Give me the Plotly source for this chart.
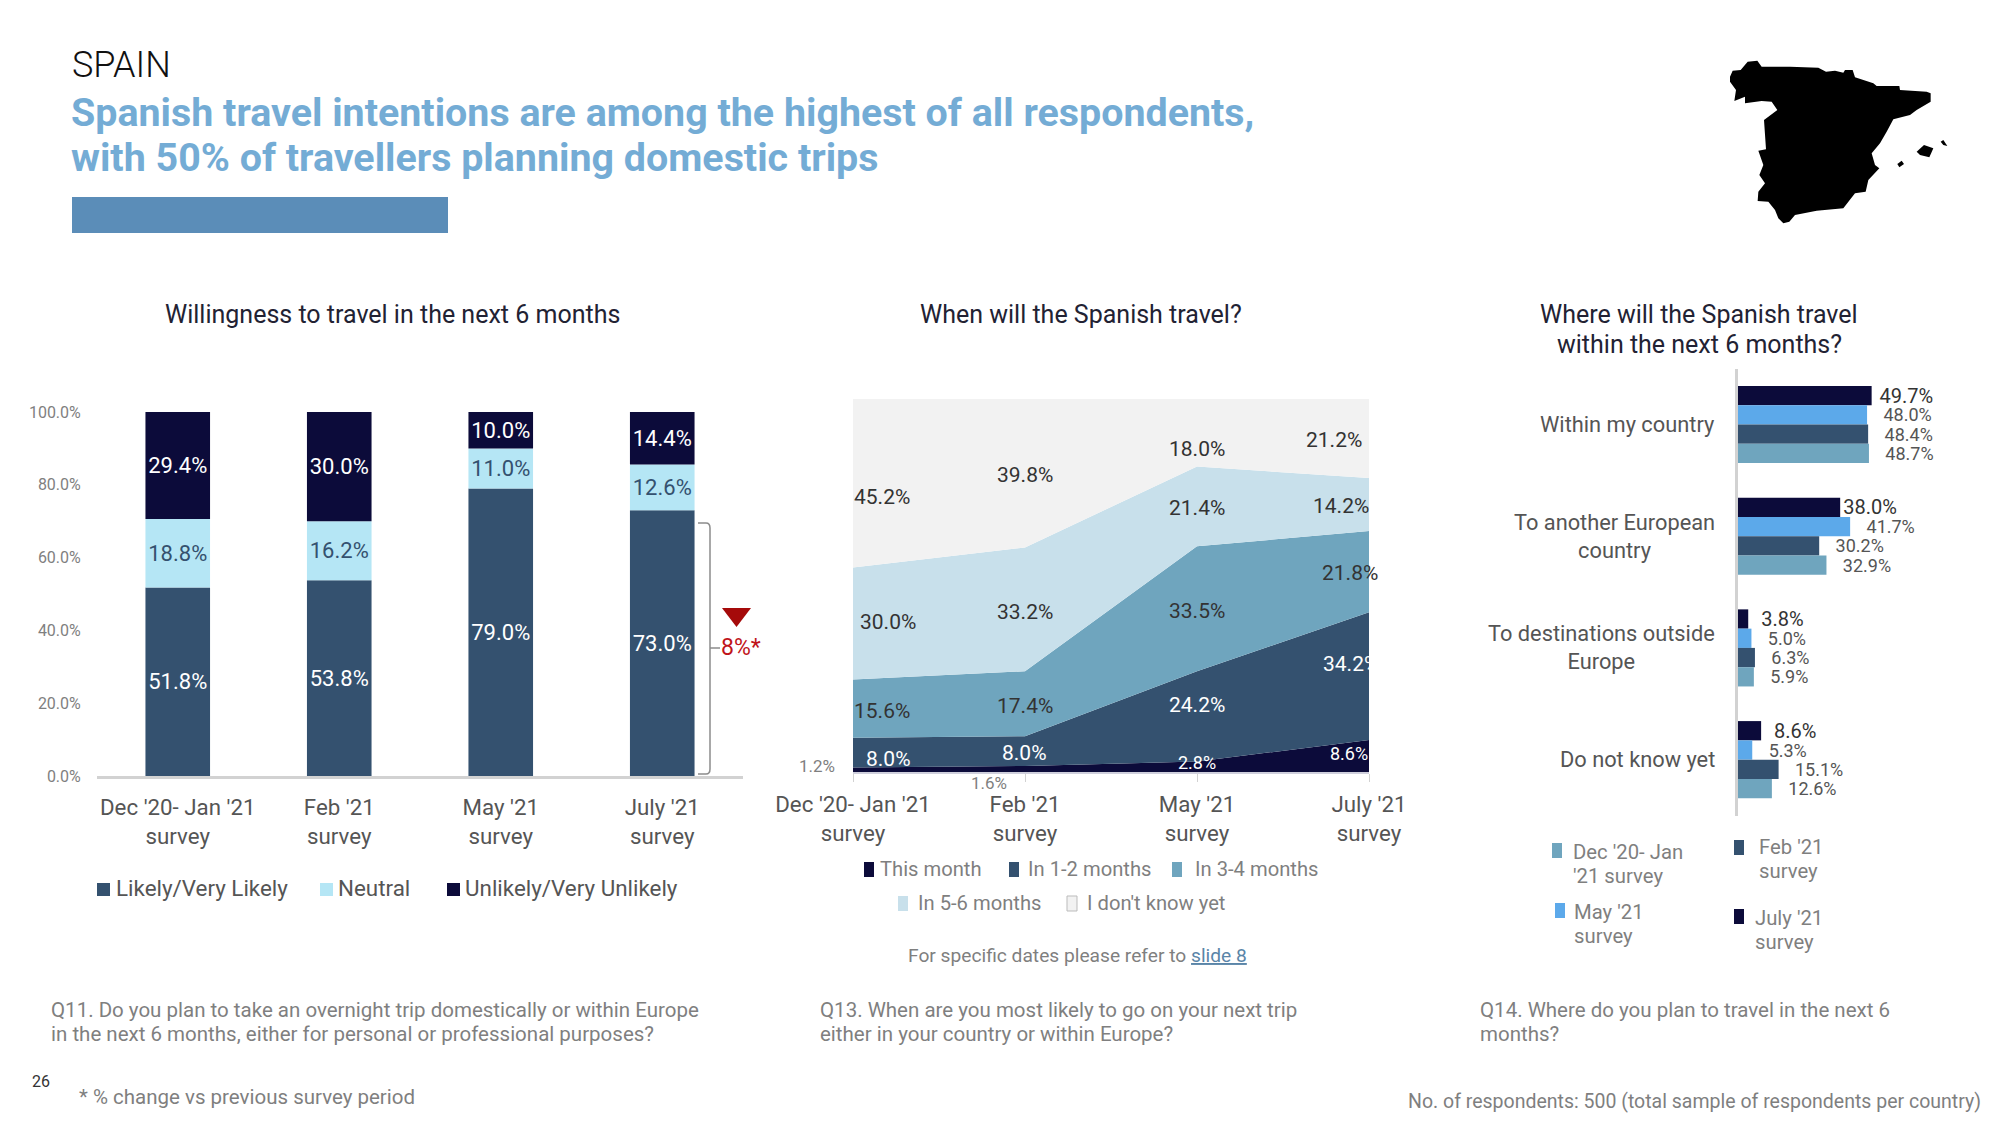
import plotly.graph_objects as go

W, H = 2000, 1126
FONT = "Roboto"

# ---------- data ----------
surveys = ["Dec '20- Jan '21<br>survey", "Feb '21<br>survey", "May '21<br>survey", "July '21<br>survey"]
y_ticks = [0, 20, 40, 60, 80, 100]
y_tick_labels = ["0.0%", "20.0%", "40.0%", "60.0%", "80.0%", "100.0%"]
likely = [51.8, 53.8, 79.0, 73.0]
neutral = [18.8, 16.2, 11.0, 12.6]
unlikely = [29.4, 30.0, 10.0, 14.4]

this_month = [1.2, 1.6, 2.8, 8.6]
in_1_2 = [8.0, 8.0, 24.2, 34.2]
in_3_4 = [15.6, 17.4, 33.5, 21.8]
in_5_6 = [30.0, 33.2, 21.4, 14.2]
dont_know = [45.2, 39.8, 18.0, 21.2]

destinations = ["Within my country", "To another European<br>country",
                "To destinations outside<br>Europe", "Do not know yet"]
dest_dec = [48.7, 32.9, 5.9, 12.6]
dest_feb = [48.4, 30.2, 6.3, 15.1]
dest_may = [48.0, 41.7, 5.0, 5.3]
dest_jul = [49.7, 38.0, 3.8, 8.6]

# ---------- colours ----------
NAVY, SLATE, TEAL, PALE, MIST = "#0C0B3A", "#34516F", "#6FA5BE", "#C8E0EB", "#F2F2F2"
ICE, SKY = "#B5E6F5", "#5CA9EA"
GREY, MID, LIGHT = "#555555", "#7f7f7f", "#d2d2d2"


def px(x):
    return x / W


def py(y):
    return 1 - y / H


ann = []
shapes = []


def text(x, y, s, size=18, color=MID, anchor="left", weight=None, align=None, va="middle"):
    f = dict(family=FONT, size=size, color=color)
    if weight:
        f["weight"] = weight
    ann.append(dict(x=px(x), y=py(y), xref="paper", yref="paper", text=s, showarrow=False,
                    xanchor=anchor, yanchor=va, font=f, align=align or anchor, xshift=0, yshift=0,
                    borderpad=0, borderwidth=0))


def rect(x0, y0, x1, y1, color, line=None):
    shapes.append(dict(type="rect", xref="paper", yref="paper", x0=px(x0), x1=px(x1), y0=py(y0), y1=py(y1),
                       fillcolor=color, line=dict(color=line or color, width=1 if line else 0)))


fig = go.Figure()

# ---------- chart 1 : stacked bars ----------
base = [0.0] * 4
for name, vals, col, tcol in [("Likely/Very Likely", likely, SLATE, "white"),
                              ("Neutral", neutral, ICE, SLATE),
                              ("Unlikely/Very Unlikely", unlikely, NAVY, "white")]:
    fig.add_trace(go.Bar(x=surveys, y=vals, base=list(base), width=0.4, offset=-0.2, name=name,
                         marker=dict(color=col, line=dict(width=0)),
                         texttemplate="%{y:.1f}%", textposition="inside", insidetextanchor="middle",
                         textangle=0, constraintext="none",
                         textfont=dict(family=FONT, size=22, color=tcol), xaxis="x", yaxis="y"))
    base = [b + v for b, v in zip(base, vals)]

# ---------- chart 2 : stacked area ----------
for name, vals, col in [("This month", this_month, NAVY), ("In 1-2 months", in_1_2, SLATE),
                        ("In 3-4 months", in_3_4, TEAL), ("In 5-6 months", in_5_6, PALE),
                        ("I don't know yet", dont_know, MIST)]:
    fig.add_trace(go.Scatter(x=surveys, y=vals, name=name, mode="lines", stackgroup="a",
                             line=dict(width=0, color=col), fillcolor=col, xaxis="x2", yaxis="y2"))

# ---------- chart 3 : grouped bars ----------
NB = "\u00a0"
for name, vals, col, size, tc, pads in [("July '21 survey", dest_jul, NAVY, 20, "#333333", [1, 0, 2, 2]),
                                        ("May '21 survey", dest_may, SKY, 18, GREY, [3, 3, 3, 3]),
                                        ("Feb '21 survey", dest_feb, SLATE, 18, GREY, [3, 3, 3, 3]),
                                        ("Dec '20- Jan '21 survey", dest_dec, TEAL, 18, GREY, [3, 3, 3, 3])]:
    fig.add_trace(go.Bar(y=destinations, x=vals, name=name, orientation="h", marker=dict(color=col, line=dict(width=0)),
                         customdata=[NB * p for p in pads],
                         texttemplate="%{customdata}%{x:.1f}%", textposition="outside", cliponaxis=False,
                         constraintext="none",
                         textfont=dict(family=FONT, size=size, color=tc), xaxis="x3", yaxis="y3"))

# ---------- area labels ----------
area_labels = [
    (dont_know, [(882, 497), (1025, 475), (1197, 449), (1334, 440)], "#333333", 21),
    (in_5_6, [(888, 622), (1025, 612), (1197, 508), (1341, 506)], "#333333", 21),
    (in_3_4, [(882, 711), (1025, 706), (1197, 611), (1350, 573)], "#333333", 21),
    (in_1_2, [(888, 759), (1024, 753), (1197, 705), (1351, 664)], "white", 21),
]
for vals, pos, col, sz in area_labels:
    for v, (x, y) in zip(vals, pos):
        text(x, y, f"{v:.1f}%", sz, col, "center")
text(817, 766, f"{this_month[0]:.1f}%", 17, MID, "center")
text(989, 783, f"{this_month[1]:.1f}%", 17, MID, "center")
text(1197, 762, f"{this_month[2]:.1f}%", 18, "white", "center")
text(1349, 753, f"{this_month[3]:.1f}%", 18, "white", "center")

# ---------- chart 3 category labels ----------
for c in destinations:
    ann.append(dict(x=px(1717), y=c, xref="paper", yref="y3", text=c, showarrow=False, xanchor="right",
                    yanchor="middle", align="center", font=dict(family=FONT, size=21.8, color=GREY)))

# ---------- headings ----------
text(72, 65, "SPAIN", 36, "#111111", weight=300)
text(71, 112, "Spanish travel intentions are among the highest of all respondents,", 39.4, "#74ACD5", weight=700)
text(71, 158, "with 50% of travellers planning domestic trips", 39.4, "#74ACD5", weight=700)
rect(72, 197, 448, 233, "#5B8DB8")

text(392, 315, "Willingness to travel in the next 6 months", 25, "#222233", "center")
text(1081, 315, "When will the Spanish travel?", 25, "#222233", "center")
text(1699, 315, "Where will the Spanish travel", 25, "#222233", "center")
text(1699, 344, "within the next 6 months?", 25, "#222233", "center")

# ---------- legends ----------
for x0, col, tx, s in [(97, SLATE, 116, "Likely/Very Likely"), (320, ICE, 338, "Neutral"),
                       (447, NAVY, 465, "Unlikely/Very Unlikely")]:
    rect(x0, 883, x0 + 13, 896, col)
    text(tx, 888, s, 22.4, GREY)

for x0, y0, col, tx, s in [(864, 862, NAVY, 880, "This month"), (1009, 862, SLATE, 1028, "In 1-2 months"),
                           (1172, 862, TEAL, 1195, "In 3-4 months"), (898, 896, PALE, 918, "In 5-6 months"),
                           (1067, 896, MIST, 1087, "I don't know yet")]:
    rect(x0, y0, x0 + 10, y0 + 15, col, "#bbbbbb" if col == MIST else None)
    text(tx, y0 + 6.5, s, 20.2, MID)

text(908, 955, "For specific dates please refer to <span style='color:#5A85A8'><u>slide 8</u></span>", 19.2, MID)

for x0, y0, col, tx, s1, y1, s2, y2 in [
    (1552, 843, TEAL, 1573, "Dec '20- Jan", 852, "'21 survey", 876),
    (1734, 840, SLATE, 1759, "Feb '21", 847, "survey", 871),
    (1555, 903, SKY, 1574, "May '21", 912, "survey", 936),
    (1734, 909, NAVY, 1755, "July '21", 918, "survey", 942),
]:
    rect(x0, y0, x0 + 10, y0 + 15, col)
    text(tx, y1, s1, 20.3, MID)
    text(tx, y2, s2, 20.3, MID)

# ---------- bracket and change marker ----------
shapes.append(dict(type="path", xref="paper", yref="paper", line=dict(color="#8c8c8c", width=1.5),
                   path=f"M {px(698)} {py(523)} L {px(706)} {py(523)} Q {px(710)} {py(523)} {px(710)} {py(528)} "
                        f"L {px(710)} {py(769)} Q {px(710)} {py(774)} {px(706)} {py(774)} L {px(698)} {py(774)} "
                        f"M {px(710)} {py(648)} L {px(720)} {py(648)}"))
shapes.append(dict(type="path", xref="paper", yref="paper", fillcolor="#A50A0A", line=dict(width=0),
                   path=f"M {px(722)} {py(608)} L {px(751)} {py(608)} L {px(736.5)} {py(627)} Z"))
text(721, 647, "8%*", 23, "#C0141A")

# ---------- map silhouette (decoration) ----------
def map_path(pts):
    return "M " + " L ".join(f"{px(1700 + a / 3):.5f} {py(40 + b / 3):.5f}" for a, b in pts) + " Z"


outline = [(90, 110), (98, 92), (122, 90), (143, 65), (172, 62), (185, 80), (270, 80), (355, 83), (378, 95), (405, 92),
           (430, 98), (435, 90), (458, 90), (465, 112), (520, 130), (530, 138), (598, 138), (600, 150), (680, 155),
           (692, 160), (692, 185), (650, 210), (630, 225), (580, 238), (560, 275), (540, 310), (515, 340), (525, 375),
           (538, 385), (505, 420), (497, 455), (465, 460), (430, 505), (350, 512), (285, 525), (268, 545), (250, 550),
           (235, 535), (225, 510), (205, 485), (173, 483), (175, 455), (195, 430), (178, 405), (190, 375), (175, 332),
           (198, 328), (192, 240), (232, 210), (215, 185), (185, 183), (135, 190), (135, 170), (103, 183), (108, 150),
           (90, 125)]
isles = [[(650, 335), (672, 315), (700, 325), (688, 352), (660, 345)],
         [(592, 372), (605, 362), (612, 372), (598, 382)],
         [(722, 305), (730, 300), (742, 318), (730, 315)]]
for pts in [outline] + isles:
    shapes.append(dict(type="path", xref="paper", yref="paper", fillcolor="black", line=dict(width=0), path=map_path(pts)))

# ---------- footer ----------
for x, l1, l2 in [(51, "Q11. Do you plan to take an overnight trip domestically or within Europe",
                   "in the next 6 months, either for personal or professional purposes?"),
                  (820, "Q13. When are you most likely to go on your next trip", "either in your country or within Europe?"),
                  (1480, "Q14. Where do you plan to travel in the next 6", "months?")]:
    text(x, 1010, l1, 20.5, MID)
    text(x, 1034, l2, 20.5, MID)
text(32, 1081, "26", 16, "#333333")
text(79, 1097, "* % change vs previous survey period", 20.5, MID)
text(1981, 1101, "No. of respondents: 500 (total sample of respondents per country)", 19.5, MID, "right")

hide = dict(showgrid=False, zeroline=False)
fig.update_layout(
    width=W, height=H, autosize=False, margin=dict(l=0, r=0, t=0, b=0, pad=0, autoexpand=False),
    paper_bgcolor="white", plot_bgcolor="white",
    showlegend=False, barmode="group", bargap=0.31, bargroupgap=0, font=dict(family=FONT),
    annotations=ann, shapes=shapes,
    xaxis=dict(domain=[px(97), px(743)], type="category", anchor="y", showline=True, linecolor=LIGHT, linewidth=3,
               ticks="outside", ticklen=9, tickcolor="rgba(0,0,0,0)", tickfont=dict(family=FONT, size=22.3, color=GREY), **hide),
    yaxis=dict(domain=[py(776), py(412)], range=[0, 100], anchor="x", tickmode="array", tickvals=y_ticks,
               ticktext=y_tick_labels, ticks="outside", ticklen=12, tickcolor="rgba(0,0,0,0)",
               tickfont=dict(family=FONT, size=16, color=MID), **hide),
    xaxis2=dict(domain=[px(853), px(1369)], type="category", range=[0, 3], anchor="y2", showline=True, linecolor="#cfcfdc",
                linewidth=2, ticks="outside", ticklen=8, tickcolor=LIGHT, ticklabelstandoff=3,
                tickfont=dict(family=FONT, size=22.3, color=GREY), **hide),
    yaxis2=dict(domain=[py(772), py(399)], range=[0, 100], anchor="x2", showticklabels=False, **hide),
    xaxis3=dict(domain=[px(1738), px(1980)], range=[0, 90], anchor="y3", showticklabels=False, **hide),
    yaxis3=dict(domain=[py(815.5), py(368.6)], type="category", autorange="reversed", anchor="x3", showticklabels=False,
                showline=True, linecolor=LIGHT, linewidth=3, **hide),
)
fig.write_html("out.html", config=dict(displayModeBar=False), post_script="document.body.style.margin='0';")
